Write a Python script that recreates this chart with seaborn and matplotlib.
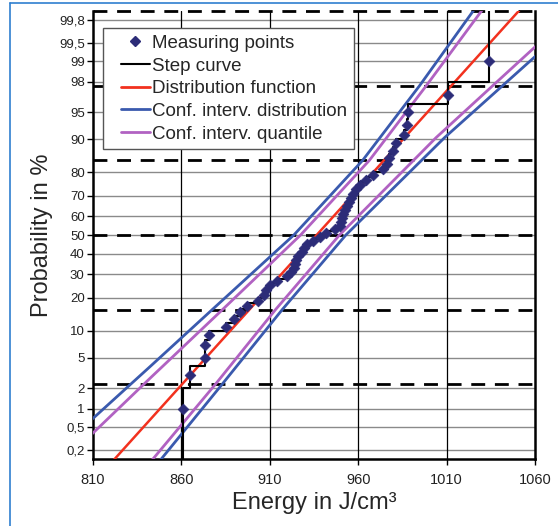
from statistics import NormalDist
import numpy as np
import pandas as pd
import seaborn as sns
import matplotlib.pyplot as plt
from matplotlib.lines import Line2D
from matplotlib.legend_handler import HandlerLine2D

# measured energies (J/cm3), sorted, 50 samples
energy = [860.8, 864.8, 873.2, 873.6, 875.8, 885.0, 889.8, 893.0, 897.2, 903.2,
          906.6, 908.0, 910.2, 914.2, 919.5, 921.8, 923.6, 924.4, 925.0, 926.2,
          928.4, 929.6, 931.0, 934.6, 938.6, 941.5, 947.0, 949.8, 950.4, 950.8,
          951.6, 952.8, 953.6, 954.6, 955.8, 957.2, 958.7, 961.2, 964.5, 968.5,
          974.0, 976.0, 977.6, 979.5, 981.5, 986.1, 987.5, 988.1, 1011.0, 1033.9]

# fitted distribution function (two points, probability in %)
dist_energy = [818.8, 1054.2]
dist_prob = [0.1, 99.9]

# confidence interval of the distribution
ci_dist_lo_energy = [774, 810, 842.2, 877.4, 923.6, 962.5, 994.7, 1025, 1031]
ci_dist_lo_prob = [0.0687, 0.702, 3.887, 15.87, 50, 84.13, 97.725, 99.865, 99.931]
ci_dist_hi_energy = [841.7, 848.6, 883, 917, 953, 1008.9, 1063.8, 1079.9]
ci_dist_hi_prob = [0.0687, 0.135, 2.275, 15.87, 50, 90.42, 99.324, 99.744]

# confidence interval of the quantile
ci_q_lo_energy = [781.4, 810, 842.2, 883.2, 927.4, 966.3, 998.5, 1029.7, 1035.7]
ci_q_lo_prob = [0.0687, 0.4, 2.743, 15.87, 50, 84.13, 97.725, 99.865, 99.931]
ci_q_hi_energy = [836.9, 843.9, 879.2, 913.2, 949.4, 1004.1, 1061.9, 1078]
ci_q_hi_prob = [0.0687, 0.135, 2.275, 15.87, 50, 90.42, 99.477, 99.813]

prob_ticks = [0.2, 0.5, 1, 2, 5, 10, 20, 30, 40, 50, 60, 70, 80, 90, 95, 98, 99, 99.5, 99.8]
prob_labels = ['0,2', '0,5', '1', '2', '5', '10', '20', '30', '40', '50', '60', '70',
               '80', '90', '95', '98', '99', '99,5', '99,8']
x_ticks = [810, 860, 910, 960, 1010, 1060]

nd = NormalDist()
def probit(p_percent):
    return np.array([nd.inv_cdf(p / 100.0) for p in np.atleast_1d(p_percent)])

sns.set_style('white')
plt.rcParams['font.family'] = ['Liberation Sans', 'DejaVu Sans']

n = len(energy)
plot_pos = (np.arange(1, n + 1) - 0.5) / n * 100
df = pd.DataFrame({'energy': energy, 'z': probit(plot_pos)})

fig = plt.figure(figsize=(5.58, 5.26), dpi=100)
ax = fig.add_axes([0.1667, 0.1274, 0.7921, 0.8516])

# grid
for p in prob_ticks:
    ax.axhline(probit(p)[0], color='#8a8a8a', lw=1.0, zorder=1)
for xv in x_ticks[1:-1]:
    ax.axvline(xv, color='black', lw=0.9, zorder=1)
for zv in [-2, -1, 0, 1, 2, 3]:
    ax.axhline(zv, color='black', lw=2.0, ls=(0, (5, 3.5)), zorder=2, clip_on=False)

blue = '#3a5aae'
purple = '#b162c2'
red = '#f2311e'
navy = '#2c2c78'

# confidence bands
for ex, pr in [(ci_dist_lo_energy, ci_dist_lo_prob), (ci_dist_hi_energy, ci_dist_hi_prob)]:
    sns.lineplot(x=ex, y=probit(pr), sort=False, color=blue, lw=2, ax=ax, zorder=3)
for ex, pr in [(ci_q_lo_energy, ci_q_lo_prob), (ci_q_hi_energy, ci_q_hi_prob)]:
    sns.lineplot(x=ex, y=probit(pr), sort=False, color=purple, lw=2, ax=ax, zorder=3)

# distribution function
sns.lineplot(x=dist_energy, y=probit(dist_prob), sort=False, color=red, lw=1.8, ax=ax, zorder=4)

# step curve (empirical cdf)
ecdf = np.arange(1, n + 1) / n
step_z = np.concatenate([[-4.0], [nd.inv_cdf(v) for v in ecdf[:-1]], [4.0]])
step_x = np.concatenate([[energy[0]], energy])
ax.step(step_x, step_z, where='post', color='black', lw=1.5, zorder=5)

sns.scatterplot(data=df, x='energy', y='z', marker='D', s=30, color=navy,
                edgecolor=navy, linewidth=0.5, ax=ax, zorder=6)

ax.set_xlim(810, 1060)
ax.set_ylim(-3, 3)
ax.set_xticks(x_ticks)
ax.set_xticklabels([str(v) for v in x_ticks], fontsize=10.5, color='#222222')
ax.set_yticks(probit(prob_ticks))
ax.set_yticklabels(prob_labels, fontsize=9.5, color='#222222',
                   family=['Liberation Sans Narrow', 'Liberation Sans'])
ax.tick_params(axis='both', direction='out', length=4, width=1, color='black',
               left=True, bottom=True, pad=3)
ax.tick_params(axis='x', pad=6)
ax.tick_params(axis='y', pad=2)

for side in ['left', 'bottom', 'right']:
    ax.spines[side].set_color('black')
    ax.spines[side].set_linewidth(1.8)
ax.spines['top'].set_visible(False)

ax.set_xlabel('Energy in J/cm³', fontsize=17, labelpad=4)
ax.set_ylabel('Probability in %', fontsize=17, labelpad=4)

handles = [
    Line2D([], [], marker='D', color=navy, ls='none', markersize=5),
    Line2D([], [], color='black', lw=1.5),
    Line2D([], [], color=red, lw=2),
    Line2D([], [], color=blue, lw=2),
    Line2D([], [], color=purple, lw=2),
]
labels = ['Measuring points', 'Step curve', 'Distribution function',
          'Conf. interv. distribution', 'Conf. interv. quantile']
leg = ax.legend(handles, labels, loc='upper left', bbox_to_anchor=(0.022, 0.962),
                borderaxespad=0, fontsize=13.5, frameon=True, fancybox=False,
                handlelength=2.15, handletextpad=0.15, labelspacing=0.3,
                borderpad=0.35, handler_map={Line2D: HandlerLine2D(xpad=0.6)})
leg.get_frame().set_edgecolor('#555555')
leg.get_frame().set_linewidth(1.0)
leg.get_frame().set_alpha(1)
leg.set_zorder(10)

# thin blue frame around the figure
fig.add_artist(Line2D([10 / 558, 10 / 558], [0, 1 - 3 / 526], transform=fig.transFigure,
                      color='#2f7fd0', lw=1.2))
fig.add_artist(Line2D([10 / 558, 1], [1 - 3 / 526, 1 - 3 / 526], transform=fig.transFigure,
                      color='#2f7fd0', lw=1.2))

fig.savefig('out.png', dpi=100)
